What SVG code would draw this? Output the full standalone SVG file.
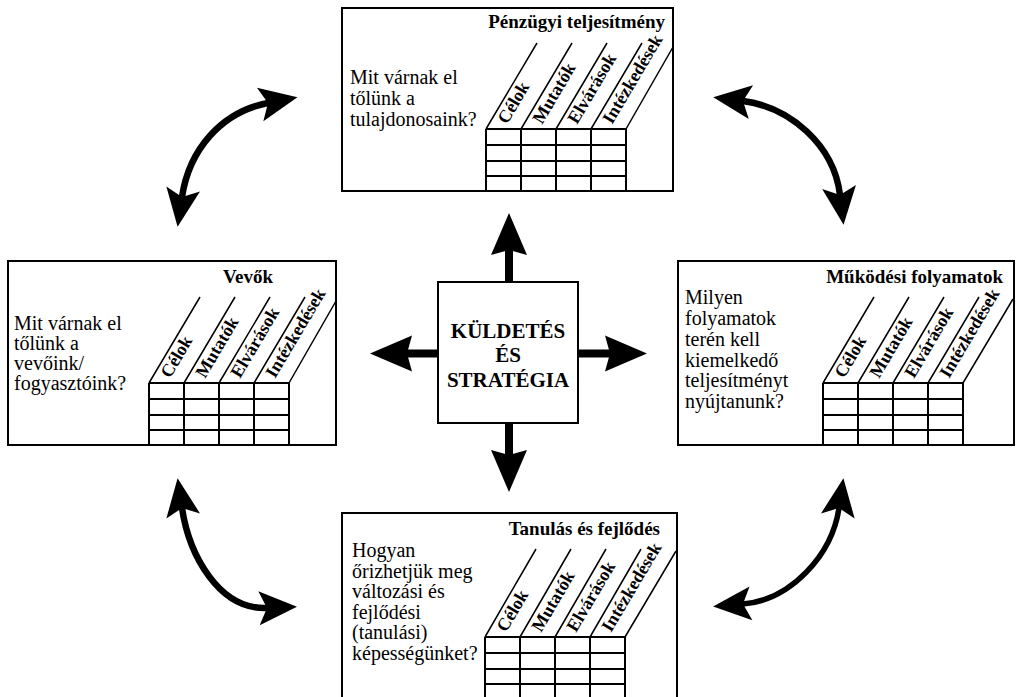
<svg xmlns="http://www.w3.org/2000/svg" width="1016" height="697" viewBox="0 0 1016 697">
<style>
.box{fill:none;stroke:#000;stroke-width:2}
.grid{fill:none;stroke:#000;stroke-width:2}
.diag{fill:none;stroke:#000;stroke-width:1.5}
.title{font-family:"Liberation Serif",serif;font-weight:bold;font-size:19px;text-anchor:end;fill:#000}
.q{font-family:"Liberation Serif",serif;font-size:20px;fill:#000}
.lab{font-family:"Liberation Serif",serif;font-weight:bold;font-size:18px;fill:#000}
.ctr{font-family:"Liberation Serif",serif;font-weight:bold;font-size:21px;text-anchor:middle;fill:#000}
.curve{fill:none;stroke:#000;stroke-width:6.5}
.straight{fill:none;stroke:#000;stroke-width:8}
</style>
<defs>
<marker id="ah" markerUnits="userSpaceOnUse" viewBox="-10 -20 45 40" refX="0" refY="0" markerWidth="45" markerHeight="40" orient="auto-start-reverse" overflow="visible">
<path d="M30,0 L-8,-17 L0,0 L-8,17 Z" fill="#000"/>
</marker>
<marker id="ah2" markerUnits="userSpaceOnUse" viewBox="-10 -20 50 40" refX="0" refY="0" markerWidth="50" markerHeight="40" orient="auto" overflow="visible">
<path d="M37,0 L-5,-18 L0,0 L-5,18 Z" fill="#000"/>
</marker>
</defs>
<rect width="1016" height="697" fill="#fff"/>

<g id="perspective-financial">
<rect class="box" x="342" y="8" width="331" height="183"/>
<text class="title" x="665" y="28">Pénzügyi teljesítmény</text>
<text class="q"><tspan x="350" y="84">Mit várnak el</tspan><tspan x="350" y="105">tőlünk a</tspan><tspan x="350" y="126">tulajdonosaink?</tspan></text>
<g transform="translate(486,129)">
<path class="grid" d="M0,0H140M0,16H140M0,32H140M0,47H140M0,0V62M35,0V62M70,0V62M105,0V62M140,0V62"/>
<path class="diag" d="M0,0L51,-86M35,0L86,-86M70,0L121,-86M105,0L156,-86M140,0L187,-82"/>
<text class="lab" transform="translate(21,-4) rotate(-59.3)">Célok</text>
<text class="lab" transform="translate(56,-4) rotate(-59.3)">Mutatók</text>
<text class="lab" transform="translate(91,-4) rotate(-59.3)">Elvárások</text>
<text class="lab" transform="translate(126,-4) rotate(-59.3)">Intézkedések</text>
</g>
</g>

<g id="perspective-customer">
<rect class="box" x="8" y="261" width="328" height="184"/>
<text class="title" x="273" y="283">Vevők</text>
<text class="q"><tspan x="14" y="330">Mit várnak el</tspan><tspan x="14" y="350">tőlünk a</tspan><tspan x="14" y="370">vevőink/</tspan><tspan x="14" y="390">fogyasztóink?</tspan></text>
<g transform="translate(149,383)">
<path class="grid" d="M0,0H140M0,16H140M0,32H140M0,47H140M0,0V62M35,0V62M70,0V62M105,0V62M140,0V62"/>
<path class="diag" d="M0,0L51,-86M35,0L86,-86M70,0L121,-86M105,0L156,-86M140,0L187,-82"/>
<text class="lab" transform="translate(21,-4) rotate(-59.3)">Célok</text>
<text class="lab" transform="translate(56,-4) rotate(-59.3)">Mutatók</text>
<text class="lab" transform="translate(91,-4) rotate(-59.3)">Elvárások</text>
<text class="lab" transform="translate(126,-4) rotate(-59.3)">Intézkedések</text>
</g>
</g>

<g id="perspective-process">
<rect class="box" x="678" y="261" width="336" height="184"/>
<text class="title" x="1003" y="283">Működési folyamatok</text>
<text class="q"><tspan x="685" y="304">Milyen</tspan><tspan x="685" y="325">folyamatok</tspan><tspan x="685" y="346">terén kell</tspan><tspan x="685" y="367">kiemelkedő</tspan><tspan x="685" y="387">teljesítményt</tspan><tspan x="685" y="408">nyújtanunk?</tspan></text>
<g transform="translate(823,383)">
<path class="grid" d="M0,0H140M0,16H140M0,32H140M0,47H140M0,0V62M35,0V62M70,0V62M105,0V62M140,0V62"/>
<path class="diag" d="M0,0L51,-86M35,0L86,-86M70,0L121,-86M105,0L156,-86M140,0L190,-84"/>
<text class="lab" transform="translate(21,-4) rotate(-59.3)">Célok</text>
<text class="lab" transform="translate(56,-4) rotate(-59.3)">Mutatók</text>
<text class="lab" transform="translate(91,-4) rotate(-59.3)">Elvárások</text>
<text class="lab" transform="translate(126,-4) rotate(-59.3)">Intézkedések</text>
</g>
</g>

<g id="perspective-learning">
<rect class="box" x="342" y="513" width="335" height="186"/>
<text class="title" x="660" y="535">Tanulás és fejlődés</text>
<text class="q"><tspan x="352" y="557">Hogyan</tspan><tspan x="352" y="578">őrizhetjük meg</tspan><tspan x="352" y="598">változási és</tspan><tspan x="352" y="619">fejlődési</tspan><tspan x="352" y="639">(tanulási)</tspan><tspan x="352" y="660">képességünket?</tspan></text>
<g transform="translate(485,637)">
<path class="grid" d="M0,0H140M0,16H140M0,32H140M0,47H140M0,0V62M35,0V62M70,0V62M105,0V62M140,0V62"/>
<path class="diag" d="M0,0L51,-88M35,0L86,-88M70,0L121,-88M105,0L156,-88M140,0L191,-86"/>
<text class="lab" transform="translate(21,-4) rotate(-59.3)">Célok</text>
<text class="lab" transform="translate(56,-4) rotate(-59.3)">Mutatók</text>
<text class="lab" transform="translate(91,-4) rotate(-59.3)">Elvárások</text>
<text class="lab" transform="translate(126,-4) rotate(-59.3)">Intézkedések</text>
</g>
</g>

<g id="mission">
<rect class="box" x="438" y="282" width="140" height="141"/>
<text class="ctr"><tspan x="508" y="338">KÜLDETÉS</tspan><tspan x="508" y="362">ÉS</tspan><tspan x="508" y="387">STRATÉGIA</tspan></text>
</g>

<g id="connectors">
<path class="straight" d="M509,282V250" marker-end="url(#ah2)"/>
<path class="straight" d="M509,423V455" marker-end="url(#ah2)"/>
<path class="straight" d="M438,353.5H407" marker-end="url(#ah2)"/>
<path class="straight" d="M578,353.5H610" marker-end="url(#ah2)"/>
<path class="curve" d="M268,103C221,112 189,150 182,197" marker-start="url(#ah)" marker-end="url(#ah)"/>
<path class="curve" d="M743,101C790,107 834,145 840,195" marker-start="url(#ah)" marker-end="url(#ah)"/>
<path class="curve" d="M182,508C189,555 219,610 267,608" marker-start="url(#ah)" marker-end="url(#ah)"/>
<path class="curve" d="M839,508C832,555 791,600 743,604" marker-start="url(#ah)" marker-end="url(#ah)" style="stroke-width:5.5"/>
</g>
</svg>
